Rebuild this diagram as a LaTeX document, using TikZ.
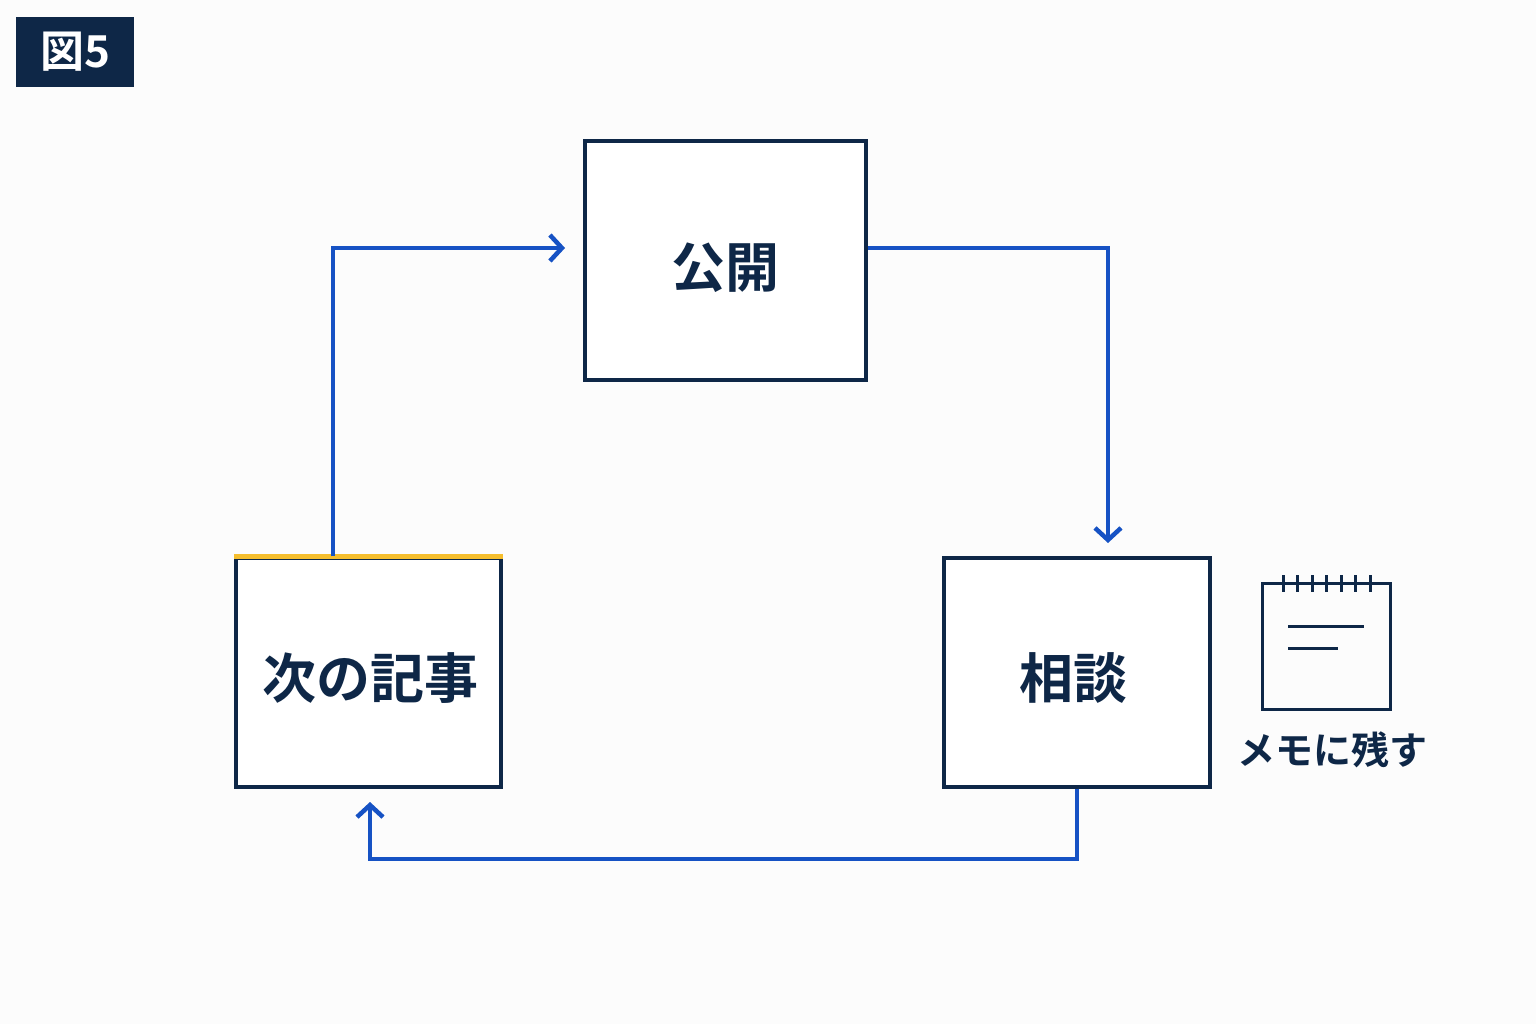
\documentclass[tikz,border=0pt]{standalone}
\usepackage{fontspec}
\newfontfamily\jp{Noto Sans CJK JP}[BoldFont={Noto Sans CJK JP Bold}]
\usetikzlibrary{arrows.meta}
\definecolor{navy}{HTML}{0E2747}
\definecolor{flow}{HTML}{1652C4}
\definecolor{gold}{HTML}{F5BE2E}
\begin{document}
\begin{tikzpicture}[x=1pt,y=-1pt,
  box/.style={draw=navy,line width=3.2pt,fill=white,inner sep=0pt},
  lab/.style={font=\jp\bfseries\fontsize{54}{56}\selectfont,text=navy},
  flow/.style={draw=flow,line width=4.5pt,-{Straight Barb[length=12pt,width=26pt,line width=4.5pt]}}]
\useasboundingbox[fill=white!98!gray] (0,0) rectangle (1536,1024);
\node[fill=navy,minimum width=118pt,minimum height=70pt,inner sep=0pt,text=white,font=\jp\bfseries\fontsize{44}{46}\selectfont] (fig) at (75,52) {図5};
\node[box,minimum width=281pt,minimum height=239pt] (pub) at (725.5,260.5) {};
\node[lab] at (725,268) {公開};
\node[box,minimum width=265pt,minimum height=229pt] (next) at (368.5,672.5) {};
\node[lab] at (370,678) {次の記事};
\draw[gold,line width=5pt] (next.north west) -- (next.north east);
\node[box,minimum width=266pt,minimum height=229pt] (cons) at (1077,672.5) {};
\node[lab] at (1073,678) {相談};
\coordinate (a1) at (333,248); \coordinate (a2) at (565,248);
\draw[flow] (333,556) -- (a1) -- (a2);
\coordinate (b1) at (1108,248); \coordinate (b2) at (1108,543);
\draw[flow] (pub.east |- b1) -- (b1) -- (b2);
\coordinate (c1) at (1077,859); \coordinate (c2) at (370,859); \coordinate (c3) at (370,802);
\draw[flow] (cons.south) -- (c1) -- (c2) -- (c3);
% memo
\node[draw=navy,line width=3pt,minimum width=128pt,minimum height=126pt,inner sep=0pt] (memo) at (1326,646) {};
\foreach \i in {0,...,6} \draw[navy,line width=3pt] (1283+\i*14.5,575) -- (1283+\i*14.5,592);
\draw[navy,line width=3pt] (1288,626) -- (1364,626);
\draw[navy,line width=3pt] (1288,648) -- (1338,648);
\node[font=\jp\bfseries\fontsize{38}{40}\selectfont,text=navy] (memolab) at (1332,750) {メモに残す};
\end{tikzpicture}
\end{document}
